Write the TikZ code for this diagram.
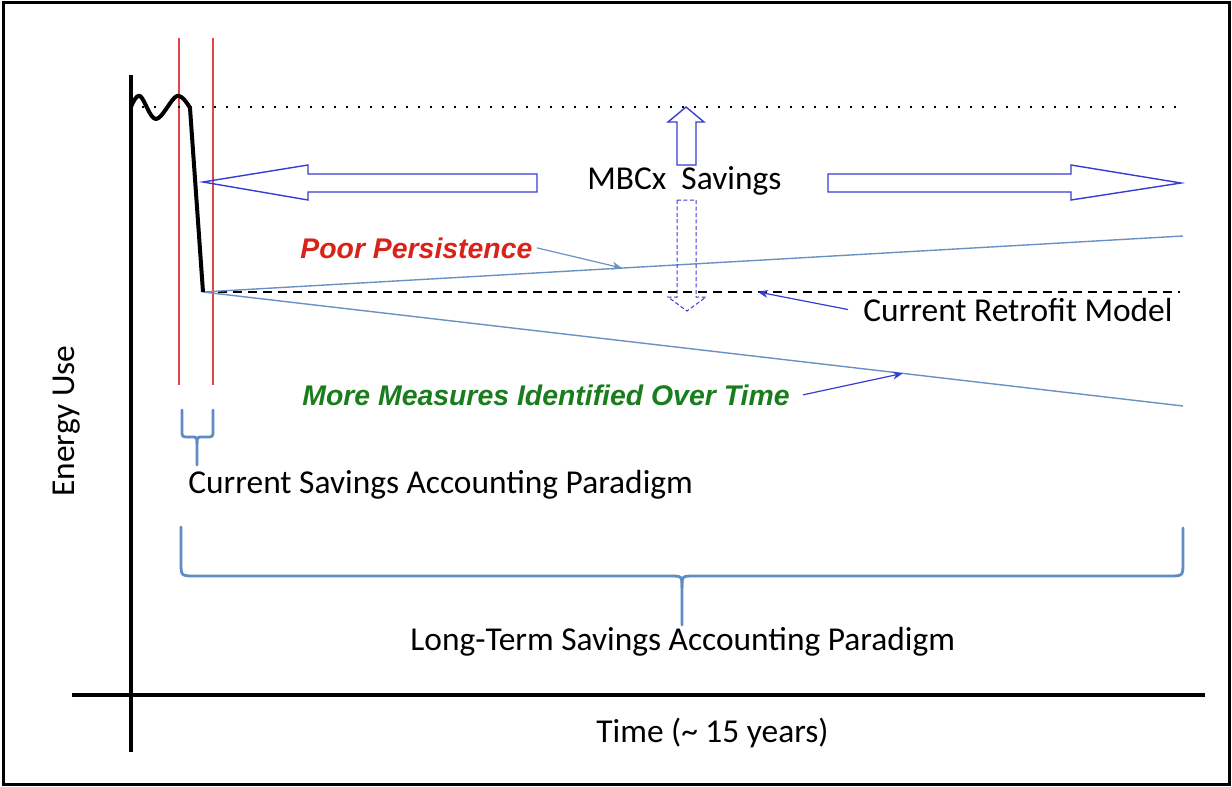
\documentclass[tikz,border=0pt]{standalone}
\usepackage{fontspec}
\setmainfont{Carlito}
\newfontfamily\arialfont{Liberation Sans}
\usetikzlibrary{arrows.meta}
\tikzset{>={Stealth[length=5pt,width=4pt]}}
\definecolor{arrowblue}{RGB}{55,60,210}
\definecolor{trendblue}{RGB}{105,145,195}
\definecolor{bracecol}{RGB}{95,140,195}
\definecolor{poorred}{RGB}{215,35,25}
\definecolor{moregreen}{RGB}{25,125,30}
\definecolor{markred}{RGB}{225,70,70}

\begin{document}
\begin{tikzpicture}[x=0.5pt,y=-0.5pt,
  lbl/.style={font=\fontsize{16.7}{20}\selectfont, inner sep=0, anchor=base west},
  note/.style={font=\arialfont\bfseries\itshape\fontsize{14.2}{17}\selectfont, inner sep=0, anchor=base west},
  axis/.style={line width=2pt},
  bigarrow/.style={draw=arrowblue, line width=0.7pt, line join=miter},
  trend/.style={trendblue, line width=0.7pt},
  pointer/.style={->, line width=0.6pt},
  bracket/.style={bracecol, line width=1.4pt, line cap=round}]
  \useasboundingbox (0,0) rectangle (1232,787);
  % Frame
  \draw[line width=1.5pt] (3,2.5) rectangle (1229,784.5);

  % Period markers
  \draw[markred, line width=0.6pt] (179,38) -- (179,385);
  \draw[markred, line width=0.6pt] (213,38) -- (213,385);

  % Reference levels
  \draw[line width=1pt, dash pattern=on 1pt off 5pt] (142,107) -- (1185,107);
  \coordinate (knee) at (203,292);
  \coordinate (upEnd) at (1183,236);
  \coordinate (lowEnd) at (1183,406);
  \draw[line width=1pt, dash pattern=on 4.5pt off 3pt] (knee) -- coordinate[pos=0.568] (retroHit) (1180,292);
  \draw[trend] (knee) -- coordinate[pos=0.4276] (poorHit) (upEnd);
  \draw[trend] (knee) -- coordinate[pos=0.714] (moreHit) (lowEnd);

  % Energy curve
  \draw[line width=2pt, line join=round] plot[smooth, tension=0.6] coordinates {(131,107) (140,96) (156,119) (177,96) (190,108)} -- (knee);

  % Axes
  \draw[axis] (131,75) -- (131,752);
  \draw[axis] (72,695) -- (1205,695);
  \node[lbl, anchor=center, rotate=90] (energy) at (67,421) {Energy Use};
  \node[lbl] (time) at (596,742) {Time (\char`~\ 15 years)};

  % MBCx savings arrows
  \node[lbl] (mbcx) at (587,189) {MBCx\ \ Savings};
  \draw[bigarrow] (203,182) -- (308,165) -- (308,174) -- (537,174) -- (537,192) -- (308,192) -- (308,200) -- cycle;
  \draw[bigarrow] (828,174) -- (1071,174) -- (1071,165) -- (1181,183) -- (1071,200) -- (1071,192) -- (828,192) -- cycle;
  \draw[bigarrow] (677,165) -- (677,122) -- (668,122) -- (686,107) -- (704,122) -- (696,122) -- (696,165) -- cycle;
  \draw[bigarrow, line width=0.5pt, dash pattern=on 2pt off 1.2pt] (677,200) -- (677,297) -- (668,297) -- (687,311) -- (706,297) -- (696,297) -- (696,200) -- cycle;

  % Labels with pointers
  \node[note, text=poorred] (poor) at (300,258) {Poor Persistence};
  \draw[pointer, trendblue] ([xshift=2pt]poor.east) -- (poorHit);
  \node[lbl] (retro) at (863,321) {Current Retrofit Model};
  \draw[pointer, arrowblue] ([xshift=-7.5pt]retro.west) -- (retroHit);
  \node[note, text=moregreen] (more) at (302,405) {More Measures Identified Over Time};
  \draw[pointer, arrowblue] ([xshift=6.5pt]more.east) -- (moreHit);

  % Accounting braces
  \draw[bracket] (182,410) -- (182,430) .. controls (182,437) .. (189,437) -- (191,437) .. controls (197,437) .. (197,444) -- (197,465);
  \draw[bracket] (213,410) -- (213,430) .. controls (213,437) .. (206,437) -- (203,437) .. controls (197,437) .. (197,444);
  \node[lbl] (current) at (188,493) {Current Savings Accounting Paradigm};
  \draw[bracket] (181,527) -- (181,562) .. controls (181,576) .. (195,576) -- (670,576) .. controls (682,576) .. (682,588) -- (682,625);
  \draw[bracket] (1183,528) -- (1183,562) .. controls (1183,576) .. (1169,576) -- (694,576) .. controls (682,576) .. (682,588);
  \node[lbl] (longterm) at (410,650) {Long-Term Savings Accounting Paradigm};
\end{tikzpicture}
\end{document}
